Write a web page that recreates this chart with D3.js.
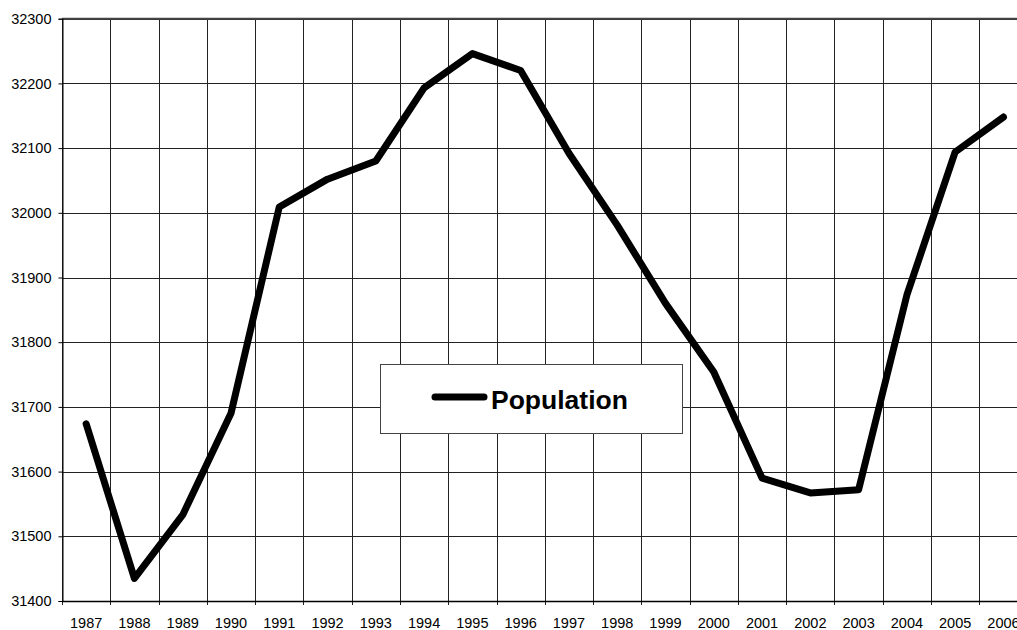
<!DOCTYPE html>
<html>
<head>
<meta charset="utf-8">
<script src="https://cdnjs.cloudflare.com/ajax/libs/d3/7.8.5/d3.min.js"></script>
<style>
  body { margin: 0; background: #fff; }
  svg { display: block; font-family: "Liberation Sans", Arial, sans-serif; }
</style>
</head>
<body>
<svg id="chart"></svg>
<script>
// years and population
const years = ["1987", "1988", "1989", "1990", "1991", "1992", "1993", "1994", "1995", "1996",
               "1997", "1998", "1999", "2000", "2001", "2002", "2003", "2004", "2005", "2006"];
const population = [31674, 31435, 31533, 31690, 32009, 32052, 32080, 32193, 32246, 32220,
                    32092, 31981, 31860, 31754, 31590, 31567, 31572, 31873, 32094, 32148];
const yTicks = [31400, 31500, 31600, 31700, 31800, 31900, 32000, 32100, 32200, 32300];

const width = 1017;
const height = 630;

const svg = d3.select("#chart")
  .attr("width", width)
  .attr("height", height);

// plot area runs past the right edge of the window, like the original
const plotLeft = 62, plotRight = 1027.6, plotTop = 18.7, plotBottom = 601;

const x = d3.scaleBand()
  .domain(years)
  .range([plotLeft, plotRight])
  .padding(0);

const y = d3.scaleLinear()
  .domain([31400, 32300])
  .range([plotBottom, plotTop]);

// horizontal grid
svg.append("g")
  .selectAll("line")
  .data(yTicks)
  .enter()
  .append("line")
  .attr("x1", plotLeft)
  .attr("x2", plotRight)
  .attr("y1", d => Math.round(y(d)) + 0.5)
  .attr("y2", d => Math.round(y(d)) + 0.5)
  .style("stroke", "#222")
  .style("stroke-width", 1);

// vertical grid at band edges
const edges = years.map(d => x(d)).concat([plotRight]);
svg.append("g")
  .selectAll("line")
  .data(edges)
  .enter()
  .append("line")
  .attr("x1", d => Math.round(d) + 0.5)
  .attr("x2", d => Math.round(d) + 0.5)
  .attr("y1", plotTop)
  .attr("y2", plotBottom + 4)
  .style("stroke", "#222")
  .style("stroke-width", 1);

// top border a bit heavier
svg.append("line")
  .attr("x1", plotLeft).attr("x2", plotRight)
  .attr("y1", y(32300)).attr("y2", y(32300))
  .style("stroke", "#444")
  .style("stroke-width", 2);

// bottom axis line
svg.append("line")
  .attr("x1", plotLeft).attr("x2", plotRight)
  .attr("y1", Math.round(y(31400)) + 0.5).attr("y2", Math.round(y(31400)) + 0.5)
  .style("stroke", "#000")
  .style("stroke-width", 1.5);

// y axis
const yAxis = svg.append("g")
  .attr("transform", `translate(${Math.round(plotLeft) + 0.5},0)`)
  .call(d3.axisLeft(y).tickValues(yTicks).tickSize(4).tickPadding(7).tickFormat(d3.format("d")));
yAxis.select(".domain").style("stroke", "#000");
yAxis.selectAll("line").style("stroke", "#000");
yAxis.selectAll("text")
  .style("font-size", "14.5px")
  .style("fill", "#000");

// x labels at band centres
svg.append("g")
  .selectAll("text")
  .data(years)
  .enter()
  .append("text")
  .attr("x", d => x(d) + x.bandwidth() / 2)
  .attr("y", 628)
  .style("text-anchor", "middle")
  .style("font-size", "14.5px")
  .text(d => d);

// population line
const line = d3.line()
  .x((d, i) => x(years[i]) + x.bandwidth() / 2)
  .y(d => y(d));

svg.append("path")
  .datum(population)
  .attr("d", line)
  .style("fill", "none")
  .style("stroke", "#000")
  .style("stroke-width", 7)
  .style("stroke-linejoin", "round")
  .style("stroke-linecap", "round");

// legend
const legend = svg.append("g");
legend.append("rect")
  .attr("x", 380.5)
  .attr("y", 364.5)
  .attr("width", 302)
  .attr("height", 69)
  .style("fill", "#fff")
  .style("stroke", "#444")
  .style("stroke-width", 1);
legend.append("line")
  .attr("x1", 435).attr("x2", 484)
  .attr("y1", 397).attr("y2", 397)
  .style("stroke", "#000")
  .style("stroke-width", 7)
  .style("stroke-linecap", "round");
legend.append("text")
  .attr("x", 491)
  .attr("y", 409)
  .style("font-size", "26.5px")
  .style("font-weight", "bold")
  .text("Population");
</script>
</body>
</html>
